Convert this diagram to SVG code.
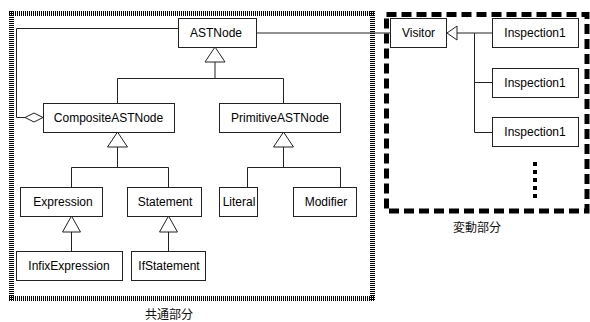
<svg xmlns="http://www.w3.org/2000/svg" width="590" height="322" viewBox="0 0 590 322">
  <style>
    .box { fill: #fff; stroke: #222; stroke-width: 1; }
    .lbl { font-family: "Liberation Sans", Arial, sans-serif; font-size: 12px; fill: #000; text-anchor: middle; }
    .cap { font-family: "Liberation Sans", "Noto Sans CJK JP", sans-serif; font-size: 12px; fill: #111; text-anchor: middle; }
    .ln { fill: none; stroke: #222; stroke-width: 1; }
    .tri { fill: #fff; stroke: #222; stroke-width: 1; }
    .dot { stroke: #000; stroke-width: 5; stroke-dasharray: 1 1; }
  </style>

  <!-- region frames -->
  <g id="common-region">
    <line class="dot" x1="9" y1="13.5" x2="375" y2="13.5"/>
    <line class="dot" x1="9" y1="298.5" x2="375" y2="298.5"/>
    <line class="dot" x1="11.5" y1="11" x2="11.5" y2="301"/>
    <line class="dot" x1="372.5" y1="11" x2="372.5" y2="301"/>
    <text class="cap" x="169" y="319">共通部分</text>
  </g>
  <g id="variable-region">
    <rect x="386.5" y="14.5" width="200.5" height="196.5" fill="none" stroke="#000" stroke-width="5" stroke-dasharray="10 5"/>
    <text class="cap" x="477" y="232">変動部分</text>
  </g>

  <!-- connectors -->
  <g id="connectors">
    <!-- ASTNode - Visitor -->
    <line class="ln" x1="256" y1="33" x2="390" y2="33"/>
    <!-- ASTNode aggregated by CompositeASTNode -->
    <polyline class="ln" points="178,28.5 16.5,28.5 16.5,117.5 25,117.5"/>
    <polygon class="tri" points="25,117.5 34,113 43,117.5 34,122"/>
    <!-- ASTNode generalisation -->
    <polygon class="tri" points="215,47 205,62 225,62"/>
    <polyline class="ln" points="215,62 215,78.5"/>
    <polyline class="ln" points="117.5,103 117.5,78.5 283.5,78.5 283.5,103"/>
    <!-- CompositeASTNode generalisation -->
    <polygon class="tri" points="117.5,132 107.5,147 127.5,147"/>
    <line class="ln" x1="117.5" y1="147" x2="117.5" y2="167.5"/>
    <polyline class="ln" points="71.5,187 71.5,167.5 168.5,167.5 168.5,187"/>
    <!-- PrimitiveASTNode generalisation -->
    <polygon class="tri" points="283.5,132 273.5,147 293.5,147"/>
    <line class="ln" x1="283.5" y1="147" x2="283.5" y2="167.5"/>
    <polyline class="ln" points="247.5,187 247.5,167.5 340.5,167.5 340.5,187"/>
    <!-- Expression / Statement generalisation -->
    <polygon class="tri" points="71.5,216 62.5,232 80.5,232"/>
    <line class="ln" x1="71.5" y1="232" x2="71.5" y2="251"/>
    <polygon class="tri" points="168.5,216 159.5,232 177.5,232"/>
    <line class="ln" x1="168.5" y1="232" x2="168.5" y2="251"/>
    <!-- Visitor generalisation -->
    <polygon class="tri" points="447,33 457,26 457,40"/>
    <line class="ln" x1="457" y1="33" x2="474.5" y2="33"/>
    <line class="ln" x1="474.5" y1="33" x2="474.5" y2="132.5"/>
    <line class="ln" x1="474.5" y1="33" x2="492" y2="33"/>
    <line class="ln" x1="474.5" y1="82.5" x2="492" y2="82.5"/>
    <line class="ln" x1="474.5" y1="132.5" x2="492" y2="132.5"/>
    <!-- continuation marks -->
    <line x1="535" y1="162" x2="535" y2="198" stroke="#000" stroke-width="4" stroke-dasharray="4 4"/>
  </g>

  <!-- nodes -->
  <g id="ASTNode">
    <rect class="box" x="178.5" y="18.5" width="78" height="29"/>
    <text class="lbl" x="216" y="37.3">ASTNode</text>
  </g>
  <g id="CompositeASTNode">
    <rect class="box" x="43.5" y="103.5" width="131" height="29"/>
    <text class="lbl" x="108.5" y="122.3">CompositeASTNode</text>
  </g>
  <g id="PrimitiveASTNode">
    <rect class="box" x="219.5" y="103.5" width="121" height="29"/>
    <text class="lbl" x="280" y="122.3">PrimitiveASTNode</text>
  </g>
  <g id="Expression">
    <rect class="box" x="20.5" y="187.5" width="82" height="29"/>
    <text class="lbl" x="63" y="206.3">Expression</text>
  </g>
  <g id="Statement">
    <rect class="box" x="127.5" y="187.5" width="74" height="29"/>
    <text class="lbl" x="165" y="206.3">Statement</text>
  </g>
  <g id="Literal">
    <rect class="box" x="219.5" y="187.5" width="38" height="29"/>
    <text class="lbl" x="239" y="206.3">Literal</text>
  </g>
  <g id="Modifier">
    <rect class="box" x="293.5" y="187.5" width="63" height="29"/>
    <text class="lbl" x="326" y="206.3">Modifier</text>
  </g>
  <g id="InfixExpression">
    <rect class="box" x="16.5" y="251.5" width="106" height="29"/>
    <text class="lbl" x="69" y="270.3">InfixExpression</text>
  </g>
  <g id="IfStatement">
    <rect class="box" x="131.5" y="251.5" width="74" height="29"/>
    <text class="lbl" x="169" y="270.3">IfStatement</text>
  </g>
  <g id="Visitor">
    <rect class="box" x="390.5" y="18.5" width="56" height="29"/>
    <text class="lbl" x="418.5" y="37.3">Visitor</text>
  </g>
  <g id="Inspection1-a">
    <rect class="box" x="492.5" y="18.5" width="86" height="29"/>
    <text class="lbl" x="535" y="37.3">Inspection1</text>
  </g>
  <g id="Inspection1-b">
    <rect class="box" x="492.5" y="68.5" width="86" height="29"/>
    <text class="lbl" x="535" y="87.3">Inspection1</text>
  </g>
  <g id="Inspection1-c">
    <rect class="box" x="492.5" y="117.5" width="86" height="29"/>
    <text class="lbl" x="535" y="136.3">Inspection1</text>
  </g>
</svg>
